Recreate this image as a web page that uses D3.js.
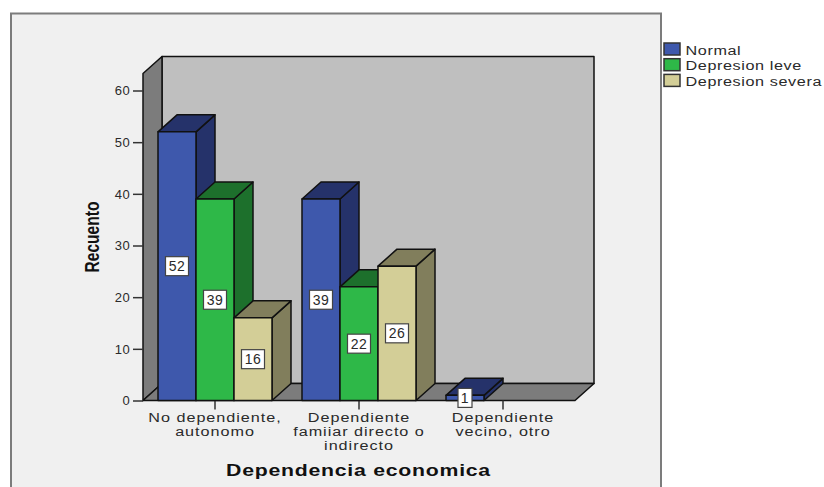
<!DOCTYPE html>
<html>
<head>
<meta charset="utf-8">
<script src="https://cdn.jsdelivr.net/npm/d3@7"></script>
<style>
  html, body { margin: 0; padding: 0; background: #fff; }
  svg { display: block; }
  text { font-family: "Liberation Sans", Arial, sans-serif; fill: #2a2a2a; }
</style>
</head>
<body>
<svg id="chart" width="824" height="487"></svg>
<script>
// Dependency categories, one label per line
const categories = ["No dependiente,|autonomo", "Dependiente|famiiar directo o|indirecto", "Dependiente|vecino, otro"];
const seriesNames = ["Normal", "Depresion leve", "Depresion severa"];
const normal = [52, 39, 1];
const depresionLeve = [39, 22, null];
const depresionSevera = [16, 26, null];
const yTicks = [0, 10, 20, 30, 40, 50, 60];
const frontColors = ["#3e58ac", "#2eb848", "#d3ce97"];
const sideColors = ["#25326a", "#1d702c", "#817e5c"];
const seriesValues = [normal, depresionLeve, depresionSevera];

const svg = d3.select("#chart");
const depth = { x: 19, y: -17 };
const line = "#111";

const x = d3.scaleBand().domain(categories).range([143, 575]);
const inner = d3.scaleBand().domain(seriesNames)
  .range([x.bandwidth() / 2 - 57, x.bandwidth() / 2 + 57]);
const y = d3.scaleLinear().domain([0, 60]).range([400.5, 90.5]);
const yMax = 63.3;

// Text drawn with a horizontal stretch about its anchor point
const wideText = (px, py, str, size, sx, anchor = "start", spacing = 0) =>
  svg.append("text")
    .attr("transform", `translate(${px},${py}) scale(${sx},1)`)
    .attr("text-anchor", anchor)
    .style("font-size", size + "px")
    .style("letter-spacing", spacing + "px")
    .text(str);

// Chart panel
svg.append("rect").attr("x", 11).attr("y", 13.5).attr("width", 650).attr("height", 490)
  .attr("fill", "#f0f0f0").attr("stroke", "#7c7c7c").attr("stroke-width", 2);

const poly = (pts, fill, sw = 1.5) => svg.append("polygon")
  .attr("points", pts.map(p => p.join(",")).join(" "))
  .attr("fill", fill).attr("stroke", line).attr("stroke-width", sw).attr("stroke-linejoin", "round");

// Back wall, left wall and floor of the 3D box
const [x0, x1] = x.range();
const y0 = y(0), yT = y(yMax);
poly([[x0 + depth.x, yT + depth.y], [x1 + depth.x, yT + depth.y], [x1 + depth.x, y0 + depth.y], [x0 + depth.x, y0 + depth.y]], "#bfbfbf");
poly([[x0, yT], [x0 + depth.x, yT + depth.y], [x0 + depth.x, y0 + depth.y], [x0, y0]], "#7c7c7c");
poly([[x0, y0], [x0 + depth.x, y0 + depth.y], [x1 + depth.x, y0 + depth.y], [x1, y0]], "#7c7c7c");

// Axes
const yAxis = svg.append("g").attr("transform", `translate(${x0},0)`)
  .call(d3.axisLeft(y).tickValues(yTicks).tickSize(10).tickPadding(2.5));
yAxis.select(".domain").remove();
yAxis.selectAll("line").attr("stroke", "#333").attr("stroke-width", 1.5);
yAxis.selectAll("text").style("font-size", "13px").style("letter-spacing", "0.7px")
  .style("font-family", '"Liberation Sans"').attr("fill", "#2a2a2a");

const xAxis = svg.append("g").attr("transform", `translate(0,${y0})`)
  .call(d3.axisBottom(x).tickSize(9).tickFormat(""));
xAxis.select(".domain").remove();
xAxis.selectAll("line").attr("stroke", "#333").attr("stroke-width", 1.5);

categories.forEach(c => {
  c.split("|").forEach((part, i) => {
    wideText(x(c) + x.bandwidth() / 2, 422 + i * 14, part, 13.5, 1.2, "middle", 0.8);
  });
});

// Bars, painted left to right so nearer faces overlap correctly
categories.forEach((c, ci) => {
  seriesNames.forEach((s, si) => {
    const v = seriesValues[si][ci];
    if (v === null) return;
    const bx = x(c) + inner(s), bw = inner.bandwidth(), top = y(v);
    poly([[bx + bw, top], [bx + bw + depth.x, top + depth.y], [bx + bw + depth.x, y0 + depth.y], [bx + bw, y0]], sideColors[si]);
    poly([[bx, top], [bx + depth.x, top + depth.y], [bx + bw + depth.x, top + depth.y], [bx + bw, top]], sideColors[si]);
    poly([[bx, top], [bx + bw, top], [bx + bw, y0], [bx, y0]], frontColors[si]);
  });
});

// Value labels at the middle of each bar front
categories.forEach((c, ci) => {
  seriesNames.forEach((s, si) => {
    const v = seriesValues[si][ci];
    if (v === null) return;
    const cx = x(c) + inner(s) + inner.bandwidth() / 2, cy = y(v / 2);
    const w = String(v).length > 1 ? 23 : 14;
    svg.append("rect").attr("x", cx - w / 2).attr("y", cy - 9.5).attr("width", w).attr("height", 19)
      .attr("fill", "#fff").attr("stroke", "#444").attr("stroke-width", 1.2);
    svg.append("text").attr("x", cx).attr("y", cy + 5).attr("text-anchor", "middle")
      .style("font-size", "14px").style("letter-spacing", "0.5px").text(v);
  });
});

// Axis titles
wideText(358.5, 476, "Dependencia economica", 17, 1.25, "middle", 0.6).style("font-weight", "bold").style("fill", "#111");
svg.append("text").attr("transform", "translate(99,237) rotate(-90) scale(0.74,1)").attr("text-anchor", "middle")
  .style("font-size", "21px").style("font-weight", "bold").style("fill", "#111").text("Recuento");

// Legend
seriesNames.forEach((s, i) => {
  const ly = 43 + i * 15.7;
  svg.append("rect").attr("x", 664).attr("y", ly).attr("width", 16).attr("height", 12)
    .attr("fill", frontColors[i]).attr("stroke", "#333").attr("stroke-width", 1.5);
  wideText(685.5, ly + 11.5, s, 13.5, 1.2, "start", 0.5);
});
</script>
</body>
</html>
